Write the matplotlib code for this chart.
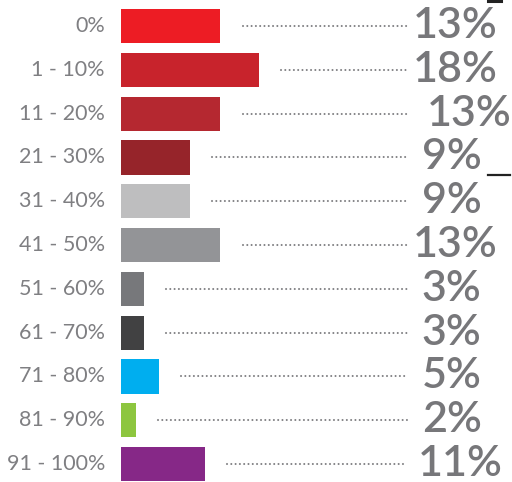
import matplotlib
matplotlib.use('Agg')
import matplotlib.pyplot as plt

categories = ['0%', '1 - 10%', '11 - 20%', '21 - 30%', '31 - 40%', '41 - 50%',
              '51 - 60%', '61 - 70%', '71 - 80%', '81 - 90%', '91 - 100%']
shares = [13, 18, 13, 9, 9, 13, 3, 3, 5, 2, 11]
value_labels = ['13%', '18%', '13%', '9%', '9%', '13%', '3%', '3%', '5%', '2%', '11%']
colors = ['#ED1C24', '#C8232C', '#B52830', '#96242A', '#BEBEBF', '#939497',
          '#77787B', '#414142', '#00AEEF', '#8DC63F', '#862887']

text_gray = '#77777A'
dot_gray = '#808083'

fig = plt.figure(figsize=(5.12, 4.82), dpi=100)
ax = fig.add_axes([121 / 512, 0, 1 - 121 / 512, 1])

n = len(categories)
rows = list(range(n))
ax.barh(rows, shares, height=0.78, color=colors, align='center')

line_end = 37.4
label_x = 38.2
# small per-row nudges for the big value labels
nudge = [0, 0, 1.8, 1.1, 1.1, 0, 1.1, 1.1, 1.1, 1.1, 0.6]

for i, (v, lab) in enumerate(zip(shares, value_labels)):
    ax.plot([v + 2.9, line_end], [i, i], color=dot_gray, lw=1.5,
            linestyle=(0, (0.01, 2.05)), dash_capstyle='round')
    ax.text(label_x + nudge[i], i, lab, ha='left', va='center',
            fontsize=31, color=text_gray, family='Lato', fontweight='semibold')
    ax.text(-2.1, i, categories[i], ha='right', va='center',
            fontsize=15.5, color='#7F7F82', family='Lato')

# stray rule marks near the value column
ax.plot([48.0, 49.7], [-0.57, -0.57], color='#222222', lw=2.2, clip_on=False)
ax.plot([48.0, 50.8], [3.41, 3.41], color='#222222', lw=1.6)

ax.set_xlim(0, (512 - 121) / 7.65)
ax.set_ylim(10.41, -0.594)
ax.axis('off')

plt.savefig('out.png', dpi=100)
